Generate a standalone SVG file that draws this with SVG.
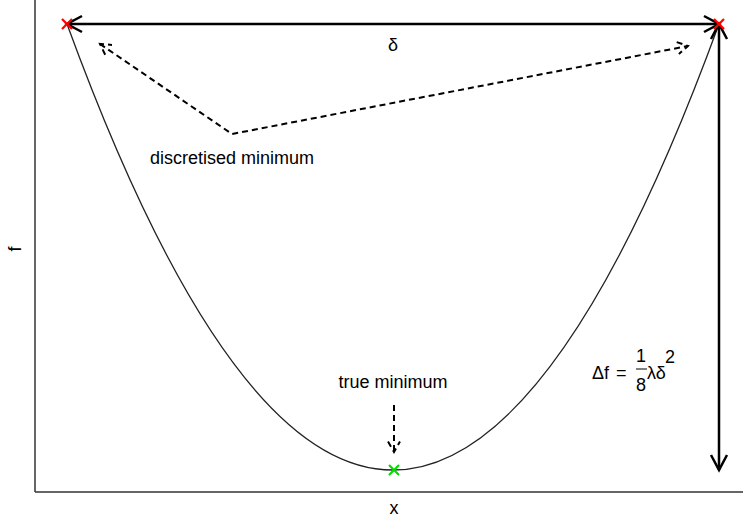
<svg xmlns="http://www.w3.org/2000/svg" width="743" height="518" viewBox="0 0 743 518">
<style>
text{font-family:"Liberation Sans",Arial,sans-serif;font-size:18px;fill:#000}
.axis{stroke:#333;stroke-width:1.5;fill:none}
.curve{stroke:#222;stroke-width:1.3;fill:none}
.solid{stroke:#000;stroke-width:2.5;fill:none;stroke-linecap:butt}
.dash{stroke:#000;stroke-width:2;fill:none;stroke-dasharray:6,4}
.red{stroke:#ff0000;stroke-width:2.2}
.green{stroke:#00e000;stroke-width:2.2}
</style>
<rect width="743" height="518" fill="#fff"/>
<g id="axes">
<line class="axis" x1="35" y1="0" x2="35" y2="492"/>
<line class="axis" x1="35" y1="492" x2="743" y2="492"/>
<text x="394" y="514" text-anchor="middle">x</text>
<text transform="translate(21,249) rotate(-90)" text-anchor="middle">f</text>
</g>
<g id="curve">
<path class="curve" d="M67,24 Q393,916 719,24"/>
</g>
<g id="connectors">
<line class="solid" x1="67" y1="24" x2="719" y2="24"/>
<polyline class="solid" points="82,16 67,24 82,32"/>
<polyline class="solid" points="704,16 719,24 704,32"/>
<line class="solid" x1="719" y1="24" x2="719" y2="470"/>
<polyline class="solid" points="711,39 719,24 727,39"/>
<polyline class="solid" points="711,455 719,470 727,455"/>
<polyline class="dash" points="100,44 232,134 688,46"/>
<polyline class="dash" points="105.2,54.8 100,44 112,44.9"/>
<polyline class="dash" points="676.7,42.1 688,46 678.9,53.9"/>
<line class="dash" x1="394" y1="405" x2="394" y2="452"/>
<polyline class="dash" points="388,441.6 394,452 400,441.6"/>
</g>
<g id="points">
<path class="red" d="M62,19 L72,29 M72,19 L62,29"/>
<path class="red" d="M714,19 L724,29 M724,19 L714,29"/>
<path class="green" d="M389,465 L399,475 M399,465 L389,475"/>
</g>
<g id="labels">
<text x="393" y="51" text-anchor="middle">δ</text>
<text x="150" y="164">discretised minimum</text>
<text x="393" y="388" text-anchor="middle">true minimum</text>
<g id="formula">
<text x="592" y="379">Δf</text>
<text x="616" y="379">=</text>
<text x="641" y="362" text-anchor="middle">1</text>
<line x1="636" y1="369" x2="647" y2="369" stroke="#000" stroke-width="1"/>
<text x="641" y="391" text-anchor="middle">8</text>
<text x="647" y="379">λδ</text>
<text x="665" y="363" font-size="13">2</text>
</g>
</g>
</svg>
